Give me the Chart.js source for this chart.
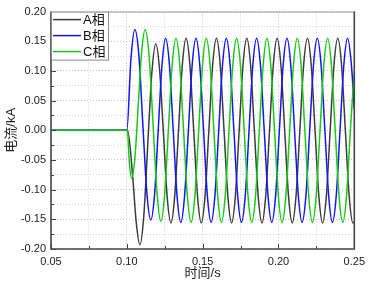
<!DOCTYPE html>
<html>
<head>
<meta charset="utf-8">
<script src="https://cdn.jsdelivr.net/npm/chart.js@4.4.1/dist/chart.umd.min.js"></script>
<style>
  body { margin: 0; background: #fff; }
  #wrap { width: 371px; height: 287px; }
</style>
</head>
<body>
<div id="wrap"><canvas id="current" width="371" height="287"></canvas></div>
<script>
// 三相电流波形
const seriesNames = ["A相", "B相", "C相"];
const xTicks = [0.05, 0.10, 0.15, 0.20, 0.25];
const yTicks = [-0.20, -0.15, -0.10, -0.05, 0.00, 0.05, 0.10, 0.15, 0.20];

const aTime = [0.05, 0.1005, 0.1038, 0.1062, 0.1086, 0.1112, 0.1143, 0.1165, 0.1191, 0.1216, 0.1241, 0.1266,
  0.1291, 0.1316, 0.1341, 0.1366, 0.1391, 0.1416, 0.1441, 0.1466,
  0.1491, 0.1516, 0.1541, 0.1566, 0.1591, 0.1616, 0.1641, 0.1666,
  0.1691, 0.1716, 0.1741, 0.1766, 0.1791, 0.1816, 0.1841, 0.1866,
  0.1891, 0.1916, 0.1941, 0.1966, 0.1991, 0.2016, 0.2041, 0.2066,
  0.2091, 0.2116, 0.2141, 0.2166, 0.2191, 0.2216, 0.2241, 0.2266,
  0.2291, 0.2316, 0.2341, 0.2366, 0.2391, 0.2416, 0.2441, 0.2466,
  0.2491, 0.25];
const aCurrent = [0, 0, -0.076, -0.155, -0.193, -0.144, 0, 0.097, 0.146, 0.102, -0.003, -0.112,
  -0.156, -0.11, 0, 0.11, 0.155, 0.11, 0, -0.11,
  -0.156, -0.11, 0, 0.11, 0.155, 0.11, 0, -0.11,
  -0.156, -0.11, 0, 0.11, 0.155, 0.11, 0, -0.11,
  -0.156, -0.11, 0, 0.11, 0.155, 0.11, 0, -0.11,
  -0.156, -0.11, 0, 0.11, 0.155, 0.11, 0, -0.11,
  -0.156, -0.11, 0, 0.11, 0.155, 0.11, 0, -0.11,
  -0.156, -0.155];

const bTime = [0.05, 0.1, 0.1027, 0.1053, 0.108, 0.1106, 0.1132, 0.1158, 0.1183, 0.1207, 0.1232,
  0.1256, 0.1281, 0.1306, 0.1331, 0.1356, 0.1381, 0.1406, 0.1431,
  0.1456, 0.1481, 0.1506, 0.1531, 0.1556, 0.1581, 0.1606, 0.1631,
  0.1656, 0.1681, 0.1706, 0.1731, 0.1756, 0.1781, 0.1806, 0.1831,
  0.1856, 0.1881, 0.1906, 0.1931, 0.1956, 0.1981, 0.2006, 0.2031,
  0.2056, 0.2081, 0.2106, 0.2131, 0.2156, 0.2181, 0.2206, 0.2231,
  0.2256, 0.2281, 0.2306, 0.2331, 0.2356, 0.2381, 0.2406, 0.2431,
  0.2456, 0.2481, 0.25];
const bCurrent = [0, 0, 0.12, 0.17, 0.125, 0.008, -0.105, -0.151, -0.108, 0, 0.11,
  0.155, 0.11, 0, -0.11, -0.155, -0.11, 0, 0.11,
  0.155, 0.11, 0, -0.11, -0.155, -0.11, 0, 0.11,
  0.155, 0.11, 0, -0.11, -0.155, -0.11, 0, 0.11,
  0.155, 0.11, 0, -0.11, -0.155, -0.11, 0, 0.11,
  0.155, 0.11, 0, -0.11, -0.155, -0.11, 0, 0.11,
  0.155, 0.11, 0, -0.11, -0.155, -0.11, 0, 0.11,
  0.155, 0.11, 0.035];

const cTime = [0.05, 0.1003, 0.1017, 0.1031, 0.1054, 0.1076, 0.1098, 0.1121, 0.1147, 0.1173, 0.1199,
  0.1224, 0.1249, 0.1274, 0.1299, 0.1324, 0.1349, 0.1374, 0.1399,
  0.1424, 0.1449, 0.1474, 0.1499, 0.1524, 0.1549, 0.1574, 0.1599,
  0.1624, 0.1649, 0.1674, 0.1699, 0.1724, 0.1749, 0.1774, 0.1799,
  0.1824, 0.1849, 0.1874, 0.1899, 0.1924, 0.1949, 0.1974, 0.1999,
  0.2024, 0.2049, 0.2074, 0.2099, 0.2124, 0.2149, 0.2174, 0.2199,
  0.2224, 0.2249, 0.2274, 0.2299, 0.2324, 0.2349, 0.2374, 0.2399,
  0.2424, 0.2449, 0.2474, 0.25];
const cCurrent = [0, 0, -0.055, -0.081, -0.044, 0.045, 0.133, 0.17, 0.125, 0.01, -0.105,
  -0.153, -0.11, 0, 0.11, 0.155, 0.11, 0, -0.11,
  -0.155, -0.11, 0, 0.11, 0.155, 0.11, 0, -0.11,
  -0.155, -0.11, 0, 0.11, 0.155, 0.11, 0, -0.11,
  -0.155, -0.11, 0, 0.11, 0.155, 0.11, 0, -0.11,
  -0.155, -0.11, 0, 0.11, 0.155, 0.11, 0, -0.11,
  -0.155, -0.11, 0, 0.11, 0.155, 0.11, 0, -0.11,
  -0.155, -0.11, 0, 0.1];

const FONT = 'Arial, "Liberation Sans", "Noto Sans CJK SC", sans-serif';
const colors = ["#3c3c3c", "#1414ff", "#14cc14"];

const toPoints = (xs, ys) => xs.map((x, i) => ({ x: x, y: ys[i] }));

// 坐标框 + 向内刻度 + 图例
const framePlugin = {
  id: "frame",
  afterDatasetsDraw: (chart) => {
    const ctx = chart.ctx;
    const { left, right, top, bottom } = chart.chartArea;
    const xs = chart.scales.x, ys = chart.scales.y;
    ctx.save();

    // 刻度 (主 + 次)
    ctx.strokeStyle = "#444";
    ctx.lineWidth = 1;
    xs.ticks.forEach((t, i) => {
      const px = Math.round(xs.getPixelForValue(t.value)) + 0.5;
      const len = i % 2 === 0 ? 5 : 3;
      ctx.beginPath();
      ctx.moveTo(px, bottom);
      ctx.lineTo(px, bottom - len);
      ctx.stroke();
    });
    ys.ticks.forEach((t, i) => {
      const py = Math.round(ys.getPixelForValue(t.value)) + 0.5;
      const len = i % 2 === 0 ? 5 : 3;
      ctx.beginPath();
      ctx.moveTo(left, py);
      ctx.lineTo(left + len, py);
      ctx.stroke();
    });

    // 坐标轴
    ctx.strokeStyle = "#999";
    ctx.lineWidth = 1;
    ctx.beginPath();
    ctx.moveTo(left, top + 0.5);
    ctx.lineTo(right, top + 0.5);
    ctx.stroke();
    ctx.strokeStyle = "#454545";
    ctx.lineWidth = 1.6;
    ctx.beginPath();
    ctx.moveTo(left, top);
    ctx.lineTo(left, bottom);
    ctx.lineTo(right, bottom);
    ctx.lineTo(right, top);
    ctx.stroke();

    // 图例
    const bx = left, by = top, bw = 57, bh = 48;
    ctx.fillStyle = "#fff";
    ctx.fillRect(bx, by, bw, bh);
    ctx.strokeStyle = "#8a8a8a";
    ctx.lineWidth = 1;
    ctx.strokeRect(bx + 0.5, by + 0.5, bw, bh);
    ctx.font = "13px " + FONT;
    ctx.textBaseline = "middle";
    ctx.textAlign = "left";
    chart.data.datasets.forEach((ds, i) => {
      const ly = by + 8 + i * 16;
      ctx.strokeStyle = ds.borderColor;
      ctx.lineWidth = 1.5;
      ctx.beginPath();
      ctx.moveTo(bx + 2, ly);
      ctx.lineTo(bx + 30, ly);
      ctx.stroke();
      ctx.fillStyle = "#111";
      ctx.fillText(ds.label, bx + 32, ly + 1);
    });
    ctx.restore();
  }
};

const gridColor = (c) => (c.index % 2 === 0 ? "#c4c4c4" : "#d4d4d4");

new Chart(document.getElementById("current").getContext("2d"), {
  type: "line",
  data: {
    datasets: [
      { label: seriesNames[0], data: toPoints(aTime, aCurrent), borderColor: colors[0], order: 2 },
      { label: seriesNames[1], data: toPoints(bTime, bCurrent), borderColor: colors[1], order: 1 },
      { label: seriesNames[2], data: toPoints(cTime, cCurrent), borderColor: colors[2], order: 0 }
    ]
  },
  options: {
    responsive: false,
    animation: false,
    devicePixelRatio: 1,
    layout: { padding: { left: 0, top: 9, right: 15, bottom: 0 } },
    elements: {
      line: { borderWidth: 1.5, cubicInterpolationMode: "monotone", fill: false },
      point: { radius: 0 }
    },
    plugins: {
      legend: { display: false },
      tooltip: { enabled: false }
    },
    scales: {
      x: {
        type: "linear",
        min: xTicks[0],
        max: xTicks[xTicks.length - 1],
        afterFit: (s) => { s.height = 38; },
        grid: { color: gridColor, drawTicks: false, lineWidth: 1 },
        border: { display: false, dash: [1, 2] },
        ticks: {
          stepSize: 0.025,
          autoSkip: false,
          maxRotation: 0,
          padding: 6,
          color: "#222",
          font: { family: FONT, size: 11 },
          callback: (v, i) => (i % 2 === 0 ? v.toFixed(2) : "")
        },
        title: {
          display: true,
          text: "时间/s",
          color: "#222",
          font: { family: FONT, size: 13 },
          padding: { bottom: 6 }
        }
      },
      y: {
        min: yTicks[0],
        max: yTicks[yTicks.length - 1],
        afterFit: (s) => { s.width = 51; },
        grid: { color: gridColor, drawTicks: false, lineWidth: 1 },
        border: { display: false, dash: [1, 2] },
        ticks: {
          stepSize: 0.025,
          autoSkip: false,
          padding: 5,
          color: "#222",
          font: { family: FONT, size: 11 },
          callback: (v, i) => (i % 2 === 0 ? v.toFixed(2) : "")
        },
        title: {
          display: true,
          text: "电流/kA",
          color: "#222",
          font: { family: FONT, size: 13 },
          padding: { top: 4 }
        }
      }
    }
  },
  plugins: [framePlugin]
});
</script>
</body>
</html>
